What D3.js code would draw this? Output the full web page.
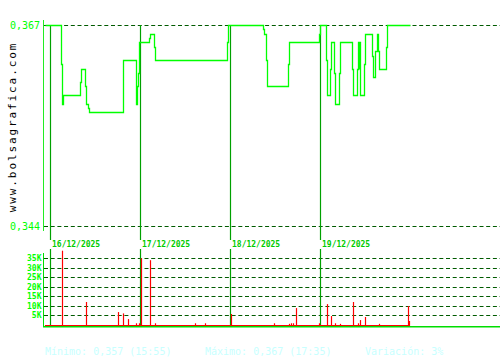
<!DOCTYPE html>
<html>
<head>
<meta charset="utf-8">
<script src="https://d3js.org/d3.v7.min.js"></script>
<style>
body { margin: 0; background: #fff; }
text { font-family: "DejaVu Sans Mono", monospace; }
</style>
</head>
<body>
<div id="chart"></div>
<script>
// session days shown
const days = ["16/12/2025", "17/12/2025", "18/12/2025", "19/12/2025"];
const priceTicks = [0.344, 0.367];
const volumeTicks = [5000, 10000, 15000, 20000, 25000, 30000, 35000];
const summary = ["Mínimo: 0,357 (15:55)", "Máximo: 0,367 (17:35)", "Variación: 3%"];

// price trades: [day index, time, price]
const prices = [
  [0, "08:31", 0.367], [0, "10:05", 0.3625], [0, "10:09", 0.358], [0, "10:15", 0.359],
  [0, "11:53", 0.3605], [0, "11:59", 0.362], [0, "12:22", 0.360], [0, "12:26", 0.358],
  [0, "12:39", 0.3575], [0, "12:45", 0.357], [0, "15:55", 0.360], [0, "15:59", 0.363],
  [0, "17:10", 0.3605], [0, "17:14", 0.358], [0, "17:18", 0.360], [0, "17:22", 0.3615],
  [0, "17:27", 0.365],
  [1, "09:53", 0.3655], [1, "09:59", 0.366], [1, "10:22", 0.3645], [1, "10:28", 0.363],
  [1, "17:20", 0.365], [1, "17:25", 0.367],
  [2, "12:10", 0.3665], [2, "12:16", 0.366], [2, "12:28", 0.363], [2, "12:33", 0.360],
  [2, "14:34", 0.3625], [2, "14:39", 0.365], [2, "17:31", 0.366],
  [3, "09:00", 0.367], [3, "09:36", 0.363], [3, "09:42", 0.359], [3, "09:59", 0.362],
  [3, "10:05", 0.365], [3, "10:22", 0.3615], [3, "10:28", 0.358], [3, "10:50", 0.3615],
  [3, "10:56", 0.365], [3, "12:05", 0.362], [3, "12:11", 0.359], [3, "12:33", 0.362],
  [3, "12:39", 0.365], [3, "12:42", 0.362], [3, "12:45", 0.365], [3, "12:48", 0.362],
  [3, "12:51", 0.359], [3, "13:13", 0.3625], [3, "13:19", 0.366], [3, "13:59", 0.3635],
  [3, "14:05", 0.361], [3, "14:16", 0.364], [3, "14:24", 0.366], [3, "14:34", 0.364],
  [3, "14:39", 0.362], [3, "15:19", 0.3645], [3, "15:25", 0.367], [3, "17:35", 0.367]
];

// volume per trade: [day index, time, shares]
const volumes = [
  [0, "10:10", 39000], [0, "12:28", 12000], [0, "15:31", 6700], [0, "15:59", 6000],
  [0, "16:28", 3000], [0, "17:14", 800], [0, "17:31", 800],
  [1, "09:07", 35000], [1, "09:59", 34000], [1, "10:28", 800], [1, "14:16", 800], [1, "15:14", 800],
  [2, "09:07", 5700], [2, "13:13", 800], [2, "14:39", 500], [2, "14:49", 800], [2, "15:00", 800],
  [2, "15:19", 8800], [2, "17:31", 800],
  [3, "09:42", 10900], [3, "10:05", 4600], [3, "10:28", 800], [3, "10:56", 500], [3, "12:11", 12000],
  [3, "12:39", 800], [3, "12:51", 2500], [3, "13:19", 4100], [3, "14:39", 500], [3, "17:25", 9900],
  [3, "17:31", 2000]
];

const W = 500, H = 360;
const dayLen = 515; // 09:00 - 17:35
function pos(day, t) {
  const [h, m] = t.split(":").map(Number);
  return day * dayLen + h * 60 + m - 540;
}
const fmtPrice = v => d3.format(".3f")(v).replace(".", ",");

const svg = d3.select("#chart").append("svg")
    .attr("width", W).attr("height", H)
    .style("display", "block");

const x = d3.scaleLinear().domain([0, days.length * dayLen]).range([50, 410]);
const y = d3.scaleLinear().domain([0.344, 0.367]).range([226, 25]);
const yv = d3.scaleLinear().domain([0, 35000]).range([324.8, 258.3]);

const dark = "#005a00", sep = "#00a000", axisCol = "#00dd00";

// watermark
svg.append("text")
    .attr("transform", "translate(16,127) rotate(-90)")
    .attr("text-anchor", "middle")
    .style("font-size", "11px")
    .style("letter-spacing", "1.9px")
    .attr("fill", "#000")
    .text("www.bolsagrafica.com");

// price grid + labels
svg.append("g").selectAll("line").data(priceTicks).join("line")
    .attr("x1", 44).attr("x2", W)
    .attr("y1", d => Math.round(y(d)) + 0.5).attr("y2", d => Math.round(y(d)) + 0.5)
    .attr("stroke", dark).attr("stroke-dasharray", "4,2.7");
svg.append("g").selectAll("text").data(priceTicks).join("text")
    .attr("x", 40).attr("y", d => y(d) + 4)
    .attr("text-anchor", "end")
    .style("font-size", "10px")
    .attr("fill", "#00ff00")
    .text(fmtPrice);

// volume grid + labels
svg.append("g").selectAll("line").data(volumeTicks).join("line")
    .attr("x1", 44).attr("x2", W)
    .attr("y1", d => Math.round(yv(d)) + 0.5).attr("y2", d => Math.round(yv(d)) + 0.5)
    .attr("stroke", dark).attr("stroke-dasharray", "4,2.7");
svg.append("g").selectAll("text").data(volumeTicks).join("text")
    .attr("x", 41.5).attr("y", d => yv(d) + 3)
    .attr("text-anchor", "end")
    .style("font-size", "8px").style("font-weight", "bold")
    .attr("fill", "#00ff00")
    .text(d => (d / 1000) + "K");

// day separators
const dayX = days.map((d, i) => Math.round(x(pos(i, "09:00"))) + 0.5);
svg.append("g").selectAll("line").data(dayX).join("line")
    .attr("x1", d => d).attr("x2", d => d).attr("y1", 25).attr("y2", 240)
    .attr("stroke", sep).attr("stroke-width", 1.2);
svg.append("g").selectAll("line").data(dayX).join("line")
    .attr("x1", d => d).attr("x2", d => d).attr("y1", 249).attr("y2", 326)
    .attr("stroke", sep).attr("stroke-width", 1.2);
svg.append("g").selectAll("text").data(days).join("text")
    .attr("x", (d, i) => dayX[i] + 1.5).attr("y", 247)
    .style("font-size", "8px").style("font-weight", "bold")
    .attr("fill", "#00cc00")
    .text(d => d);

// axes lines
svg.append("line").attr("x1", 43.5).attr("x2", 43.5).attr("y1", 20).attr("y2", 231)
    .attr("stroke", "#22ee22");
svg.append("line").attr("x1", 43.5).attr("x2", 43.5).attr("y1", 253).attr("y2", 327)
    .attr("stroke", axisCol);

// volume bars
const first = prices[0], last = prices[prices.length - 1];
svg.append("line")
    .attr("x1", x(pos(first[0], first[1]))).attr("x2", x(pos(last[0], last[1])))
    .attr("y1", yv(0) + 0.7).attr("y2", yv(0) + 0.7)
    .attr("stroke", "#ff0000");
svg.append("g").selectAll("line").data(volumes).join("line")
    .attr("x1", d => Math.round(x(pos(d[0], d[1]))) + 0.5)
    .attr("x2", d => Math.round(x(pos(d[0], d[1]))) + 0.5)
    .attr("y1", yv(0) + 1).attr("y2", d => yv(d[2]))
    .attr("stroke", "#ff0000").attr("stroke-width", 1.2);

svg.append("line").attr("x1", 43).attr("x2", W).attr("y1", 326.8).attr("y2", 326.8)
    .attr("stroke", axisCol).attr("stroke-width", 1.6);

// price line
const line = d3.line()
    .x(d => Math.round(x(pos(d[0], d[1]))) + 0.5)
    .y(d => Math.round(y(d[2])) + 0.5)
    .curve(d3.curveStepAfter);
svg.append("path")
    .datum(prices)
    .attr("d", line)
    .attr("fill", "none")
    .attr("stroke", "#00ff00")
    .attr("stroke-width", 1.3);

// summary
svg.append("g").selectAll("text").data(summary).join("text")
    .attr("x", (d, i) => [45, 205, 365][i]).attr("y", 355)
    .style("font-size", "10px")
    .attr("fill", "#c8ffff")
    .text(d => d);
</script>
</body>
</html>
